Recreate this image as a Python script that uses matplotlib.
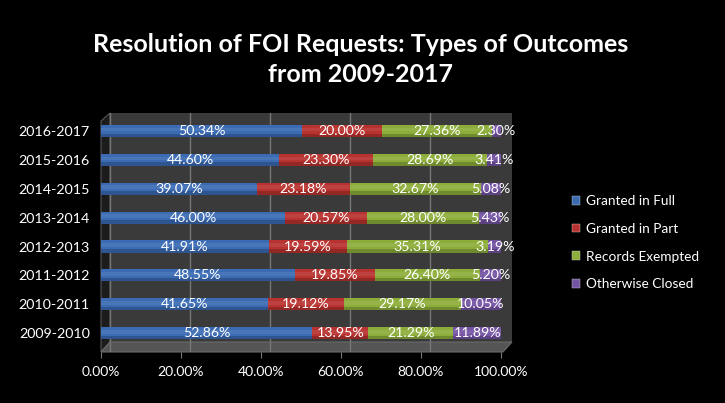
import matplotlib
matplotlib.use("Agg")
import matplotlib.pyplot as plt
from matplotlib.patches import Patch, Polygon
from matplotlib.transforms import IdentityTransform
import numpy as np

years = ["2009-2010", "2010-2011", "2011-2012", "2012-2013",
         "2013-2014", "2014-2015", "2015-2016", "2016-2017"]
granted_full = [52.86, 41.65, 48.55, 41.91, 46.00, 39.07, 44.60, 50.34]
granted_part = [13.95, 19.12, 19.85, 19.59, 20.57, 23.18, 23.30, 20.00]
records_exempted = [21.29, 29.17, 26.40, 35.31, 28.00, 32.67, 28.69, 27.36]
otherwise_closed = [11.89, 10.05, 5.20, 3.19, 5.43, 5.08, 3.41, 2.30]
series_names = ["Granted in Full", "Granted in Part", "Records Exempted", "Otherwise Closed"]
xtick_values = [0, 20, 40, 60, 80, 100]

colors = ["#3a6bb3", "#b8332f", "#8cad3a", "#7453a3"]
fnt = "Lato"
W, H = 725, 403

fig = plt.figure(figsize=(7.25, 4.03), dpi=100, facecolor="black")

def px(x, y):
    return (x, H - y)

# 3D-like frame: back wall, left wall, floor
ident = IdentityTransform()
wall = Polygon([px(110, 113), px(512, 113), px(512, 342), px(110, 342)],
               closed=True, facecolor="#3a3a3a", edgecolor="none", transform=ident, zorder=0)
left = Polygon([px(101, 121), px(110, 113), px(110, 342), px(101, 352)],
               closed=True, facecolor="#1c1c1c", edgecolor="#555555", lw=0.8, transform=ident, zorder=0)
floor = Polygon([px(101, 352), px(110, 342), px(512, 342), px(503, 352)],
                closed=True, facecolor="#555555", edgecolor="#6a6a6a", lw=0.8, transform=ident, zorder=0)
for p in (wall, left, floor):
    fig.add_artist(p)

ax = fig.add_axes([101 / W, 1 - 352 / H, 410 / W, (352 - 113) / H])
ax.set_facecolor("none")
ax.set_xlim(0, 102.5)
ax.set_ylim(-0.65, 7.62)

# grid lines on back wall
for v in xtick_values[:-1]:
    ax.axvline(v + 2.2, color="#777777", lw=1.0, zorder=0.5)

y = np.arange(len(years))
data = [granted_full, granted_part, records_exempted, otherwise_closed]
left_pos = np.zeros(len(years))
bh = 0.42
for vals, c, name in zip(data, colors, series_names):
    vals = np.array(vals)
    bars = ax.barh(y, vals, left=left_pos, height=bh, color=c, edgecolor="none", zorder=2, label=name)
    # subtle cylinder highlight / shadow
    ax.barh(y + bh * 0.12, vals, left=left_pos, height=bh * 0.3, color="white", alpha=0.08,
            edgecolor="none", zorder=2.1)
    ax.barh(y - bh * 0.36, vals, left=left_pos, height=bh * 0.28, color="black", alpha=0.2,
            edgecolor="none", zorder=2.1)
    ax.bar_label(bars, labels=[f"{v:.2f}%" for v in vals], label_type="center",
                 color="white", fontsize=10.2, family=fnt, zorder=3)
    left_pos += vals

ax.set_yticks(y)
ax.set_yticklabels(years, color="white", fontsize=10.3, family=fnt)
ax.set_xticks(xtick_values)
ax.set_xticklabels([f"{v:.2f}%" for v in xtick_values], color="white", fontsize=10, family=fnt)
ax.tick_params(axis="y", length=0, pad=8)
ax.tick_params(axis="x", length=4, color="#777777", pad=6)
for s in ax.spines.values():
    s.set_visible(False)

fig.text(0.497, 1 - 45 / H, "Resolution of FOI Requests: Types of Outcomes",
         ha="center", va="center", color="white", fontsize=18, fontweight="bold", family=fnt)
fig.text(0.497, 1 - 75 / H, "from 2009-2017",
         ha="center", va="center", color="white", fontsize=18, fontweight="bold", family=fnt)

handles = [Patch(facecolor=c, edgecolor="#cccccc", lw=0.3) for c in colors]
leg = fig.legend(handles, series_names, loc="upper left", bbox_to_anchor=(560 / W, 1 - 183 / H),
                 frameon=False, handlelength=0.6, handleheight=0.6,
                 handletextpad=0.4, labelspacing=1.15, prop={"family": fnt, "size": 9.8})
for t in leg.get_texts():
    t.set_color("white")

fig.savefig("out.png", dpi=100, facecolor="black")
